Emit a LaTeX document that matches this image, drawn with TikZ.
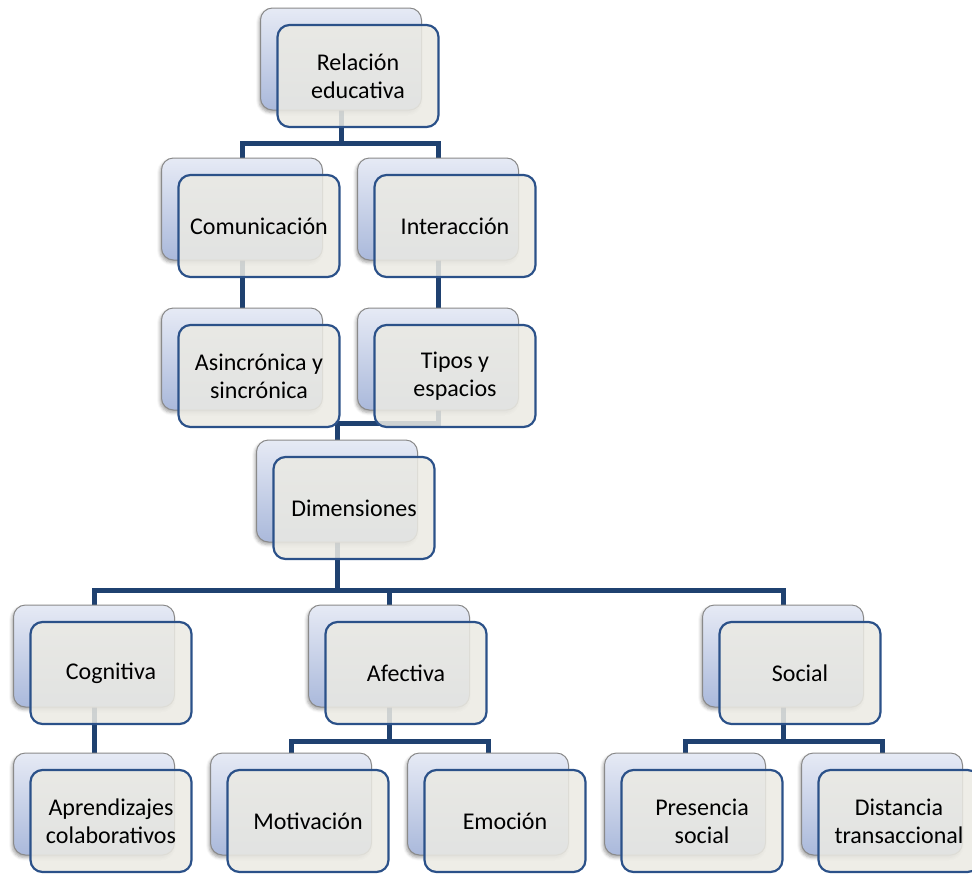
\documentclass[tikz,border=0pt]{standalone}
\usepackage{fontspec}
\setmainfont{Carlito}
\usetikzlibrary{shadows.blur,backgrounds}
\definecolor{linecol}{HTML}{1F4170}
\definecolor{frontborder}{HTML}{2B5189}
\definecolor{frontfill}{HTML}{EBEAE3}
\definecolor{backtop}{HTML}{E6EAF5}
\definecolor{backbot}{HTML}{AAB9DB}
\definecolor{backborder}{HTML}{8A8A8A}
\tikzset{
  backbox/.style={draw=backborder, line width=1pt, rounded corners=12pt,
    top color=backtop, bottom color=backbot,
    minimum width=161pt, minimum height=102pt, inner sep=0pt, outer sep=0pt,
    blur shadow={shadow xshift=-1.5pt, shadow yshift=-2.5pt, shadow blur radius=3pt, shadow opacity=35}},
  frontbox/.style={draw=frontborder, line width=2.2pt, rounded corners=12pt,
    fill=frontfill, fill opacity=0.86, text opacity=1,
    minimum width=161pt, minimum height=102pt, inner sep=0pt, outer sep=0pt,
    align=center, font=\fontsize{24}{28}\selectfont},
  conn/.style={draw=linecol, line width=5pt, line join=miter, line cap=rect}
}
\newcommand\smartitem[4]{%
  \node[backbox] (#1b) at (#2,#3) {};
  \node[frontbox] (#1) at (#2+17,#3+17) {#4};
}
\begin{document}
\begin{tikzpicture}[x=1pt,y=-1pt]
\useasboundingbox (0,0) rectangle (972,873);
\smartitem{rel}{341}{59}{Relación\\educativa}
\smartitem{com}{242}{209}{Comunicación}
\smartitem{int}{438}{209}{Interacción}
\smartitem{asi}{242}{359}{Asincrónica y\\sincrónica}
\smartitem{tip}{438}{359}{Tipos y\\espacios}
\smartitem{dim}{337}{491}{Dimensiones}
\smartitem{cog}{94}{656}{Cognitiva}
\smartitem{afe}{389}{656}{Afectiva}
\smartitem{soc}{783}{656}{Social}
\smartitem{apr}{94}{804}{Aprendizajes\\colaborativos}
\smartitem{mot}{291}{804}{Motivación}
\smartitem{emo}{488}{804}{Emoción}
\smartitem{pre}{685}{804}{Presencia\\social}
\smartitem{dis}{882}{804}{Distancia\\transaccional}
\begin{scope}[on background layer]
  \draw[conn] (relb.south) -- ++(0,33) coordinate (r1) -| (comb.north);
  \draw[conn] (r1) -| (intb.north);
  \draw[conn] (comb.south) -- (asib.north);
  \draw[conn] (intb.south) -- (tipb.north);
  \draw[conn] (tipb.south) -- ++(0,13) -| (dimb.north);
  \draw[conn] (dimb.south) -- ++(0,48) coordinate (d1) -| (cogb.north);
  \draw[conn] (d1) -| (afeb.north);
  \draw[conn] (d1) -| (socb.north);
  \draw[conn] (cogb.south) -- (aprb.north);
  \draw[conn] (afeb.south) -- ++(0,34) coordinate (a1) -| (motb.north);
  \draw[conn] (a1) -| (emob.north);
  \draw[conn] (socb.south) -- ++(0,34) coordinate (s1) -| (preb.north);
  \draw[conn] (s1) -| (disb.north);
\end{scope}
\end{tikzpicture}
\end{document}
